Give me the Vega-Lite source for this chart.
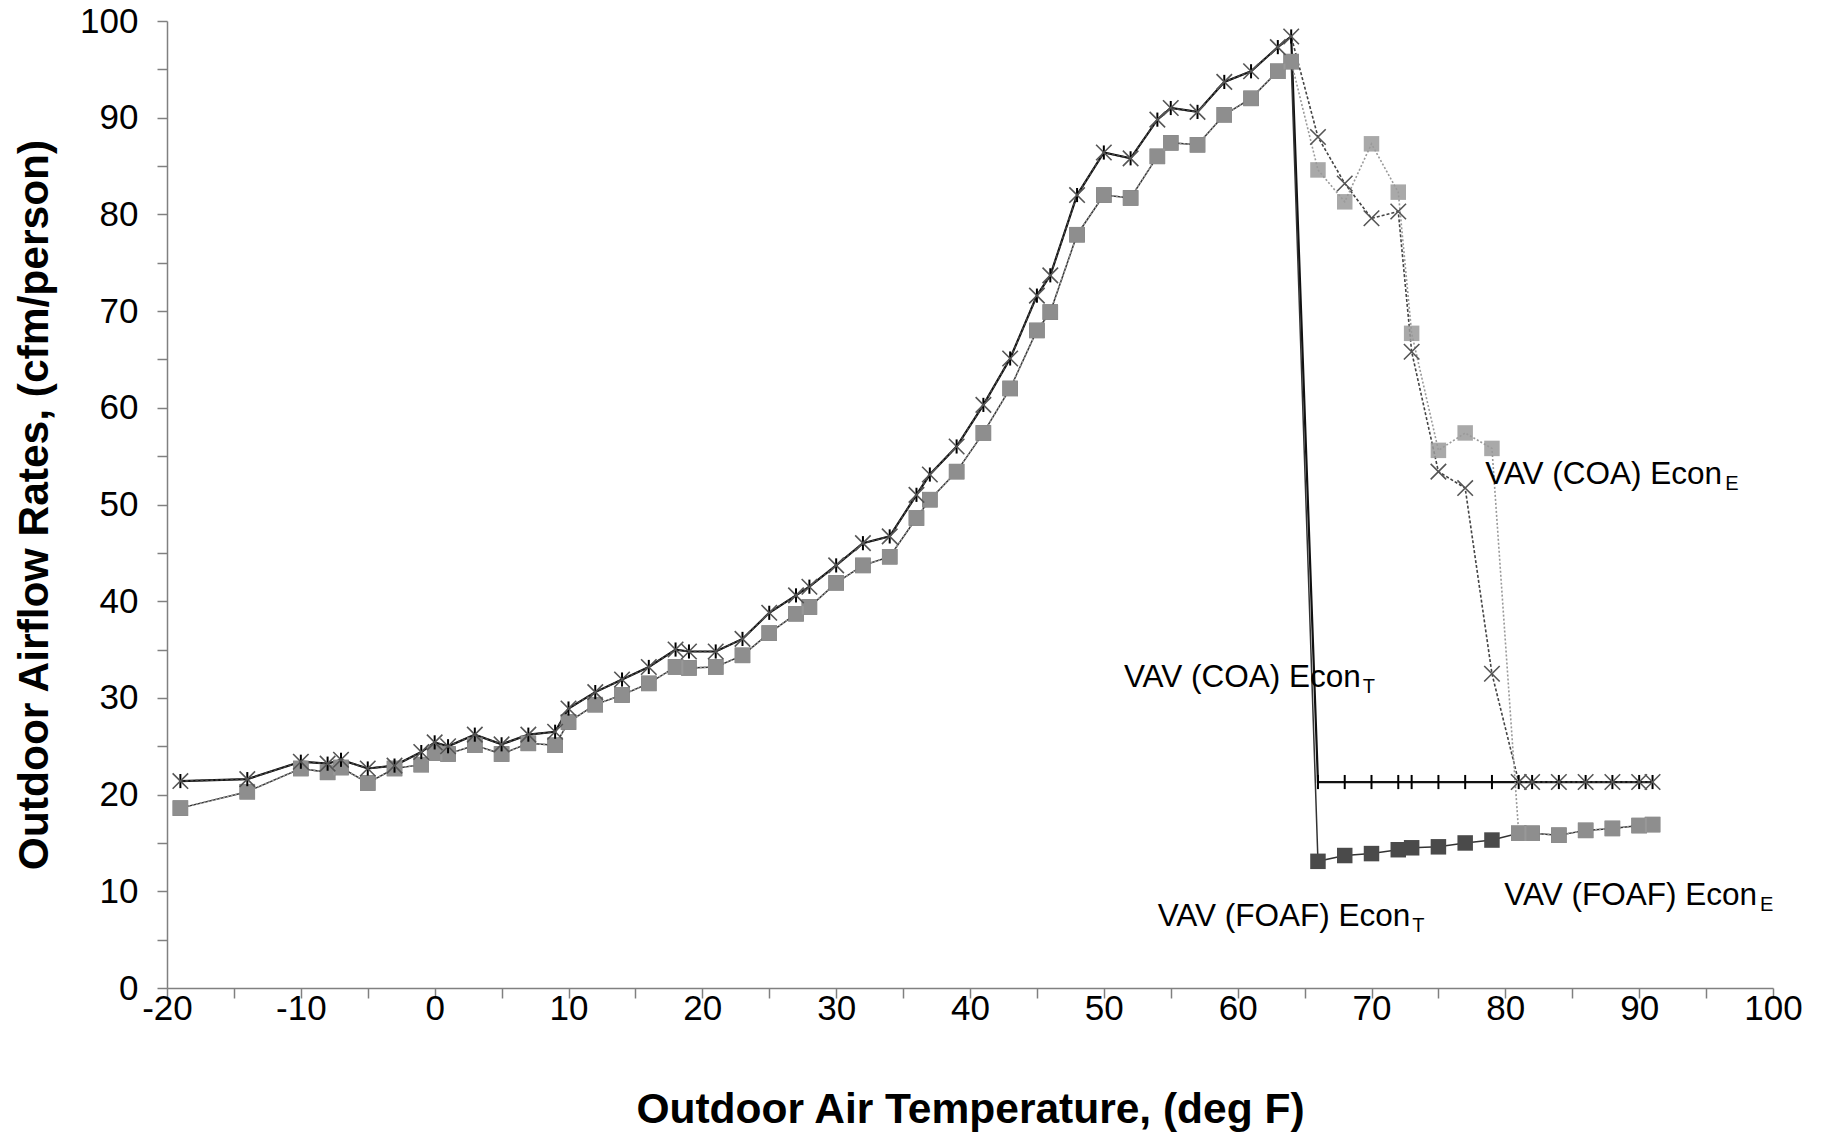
{
  "$schema": "https://vega.github.io/schema/vega-lite/v6.json",
  "width": 1606,
  "height": 967,
  "autosize": "none",
  "padding": {"left": 167, "top": 21, "right": 56, "bottom": 145},
  "background": "white",
  "config": {
    "view": {"stroke": null},
    "axis": {
      "grid": false,
      "domainColor": "#808080",
      "domainWidth": 1.5,
      "tickColor": "#808080",
      "tickWidth": 1.5,
      "tickSize": 10,
      "labelFont": "Liberation Sans",
      "labelFontSize": 35,
      "labelColor": "#000000",
      "titleFont": "Liberation Sans",
      "titleFontSize": 42.5,
      "titleFontWeight": "bold",
      "titleColor": "#000000"
    }
  },
  "datasets": {
    "pts": [
      {"t": -19, "v": 21.4, "s": "CT"}, {"t": -14, "v": 21.6, "s": "CT"}, {"t": -10, "v": 23.4, "s": "CT"}, {"t": -8, "v": 23.2, "s": "CT"}, {"t": -7, "v": 23.6, "s": "CT"}, {"t": -5, "v": 22.7, "s": "CT"}, {"t": -3, "v": 23.0, "s": "CT"}, {"t": -1, "v": 24.4, "s": "CT"}, {"t": 0, "v": 25.4, "s": "CT"}, {"t": 1, "v": 25.0, "s": "CT"}, {"t": 3, "v": 26.2, "s": "CT"}, {"t": 5, "v": 25.2, "s": "CT"}, {"t": 7, "v": 26.2, "s": "CT"}, {"t": 9, "v": 26.5, "s": "CT"}, {"t": 10, "v": 28.9, "s": "CT"}, {"t": 12, "v": 30.6, "s": "CT"}, {"t": 14, "v": 31.9, "s": "CT"}, {"t": 16, "v": 33.2, "s": "CT"}, {"t": 18, "v": 35.0, "s": "CT"}, {"t": 19, "v": 34.8, "s": "CT"}, {"t": 21, "v": 34.8, "s": "CT"}, {"t": 23, "v": 36.1, "s": "CT"}, {"t": 25, "v": 38.8, "s": "CT"}, {"t": 27, "v": 40.6, "s": "CT"}, {"t": 28, "v": 41.5, "s": "CT"}, {"t": 30, "v": 43.7, "s": "CT"}, {"t": 32, "v": 46.0, "s": "CT"}, {"t": 34, "v": 46.7, "s": "CT"}, {"t": 36, "v": 51.0, "s": "CT"}, {"t": 37, "v": 53.1, "s": "CT"}, {"t": 39, "v": 56.0, "s": "CT"}, {"t": 41, "v": 60.3, "s": "CT"}, {"t": 43, "v": 65.1, "s": "CT"}, {"t": 45, "v": 71.6, "s": "CT"}, {"t": 46, "v": 73.7, "s": "CT"}, {"t": 48, "v": 82.0, "s": "CT"}, {"t": 50, "v": 86.4, "s": "CT"}, {"t": 52, "v": 85.8, "s": "CT"}, {"t": 54, "v": 89.8, "s": "CT"}, {"t": 55, "v": 91.0, "s": "CT"}, {"t": 57, "v": 90.6, "s": "CT"}, {"t": 59, "v": 93.7, "s": "CT"}, {"t": 61, "v": 94.8, "s": "CT"}, {"t": 63, "v": 97.3, "s": "CT"}, {"t": 64, "v": 98.4, "s": "CT"},
      {"t": 66, "v": 21.3, "s": "CT"}, {"t": 68, "v": 21.3, "s": "CT"}, {"t": 70, "v": 21.3, "s": "CT"}, {"t": 72, "v": 21.3, "s": "CT"}, {"t": 73, "v": 21.3, "s": "CT"}, {"t": 75, "v": 21.3, "s": "CT"}, {"t": 77, "v": 21.3, "s": "CT"}, {"t": 79, "v": 21.3, "s": "CT"}, {"t": 81, "v": 21.3, "s": "CT"}, {"t": 82, "v": 21.3, "s": "CT"}, {"t": 84, "v": 21.3, "s": "CT"}, {"t": 86, "v": 21.3, "s": "CT"}, {"t": 88, "v": 21.3, "s": "CT"}, {"t": 90, "v": 21.3, "s": "CT"}, {"t": 91, "v": 21.3, "s": "CT"},

      {"t": -19, "v": 18.6, "s": "FT"}, {"t": -14, "v": 20.3, "s": "FT"}, {"t": -10, "v": 22.7, "s": "FT"}, {"t": -8, "v": 22.3, "s": "FT"}, {"t": -7, "v": 22.8, "s": "FT"}, {"t": -5, "v": 21.2, "s": "FT"}, {"t": -3, "v": 22.7, "s": "FT"}, {"t": -1, "v": 23.1, "s": "FT"}, {"t": 0, "v": 24.3, "s": "FT"}, {"t": 1, "v": 24.2, "s": "FT"}, {"t": 3, "v": 25.1, "s": "FT"}, {"t": 5, "v": 24.2, "s": "FT"}, {"t": 7, "v": 25.3, "s": "FT"}, {"t": 9, "v": 25.1, "s": "FT"}, {"t": 10, "v": 27.5, "s": "FT"}, {"t": 12, "v": 29.3, "s": "FT"}, {"t": 14, "v": 30.3, "s": "FT"}, {"t": 16, "v": 31.5, "s": "FT"}, {"t": 18, "v": 33.2, "s": "FT"}, {"t": 19, "v": 33.1, "s": "FT"}, {"t": 21, "v": 33.2, "s": "FT"}, {"t": 23, "v": 34.4, "s": "FT"}, {"t": 25, "v": 36.7, "s": "FT"}, {"t": 27, "v": 38.7, "s": "FT"}, {"t": 28, "v": 39.4, "s": "FT"}, {"t": 30, "v": 41.9, "s": "FT"}, {"t": 32, "v": 43.7, "s": "FT"}, {"t": 34, "v": 44.6, "s": "FT"}, {"t": 36, "v": 48.6, "s": "FT"}, {"t": 37, "v": 50.5, "s": "FT"}, {"t": 39, "v": 53.4, "s": "FT"}, {"t": 41, "v": 57.4, "s": "FT"}, {"t": 43, "v": 62.0, "s": "FT"}, {"t": 45, "v": 68.0, "s": "FT"}, {"t": 46, "v": 69.9, "s": "FT"}, {"t": 48, "v": 77.9, "s": "FT"}, {"t": 50, "v": 82.0, "s": "FT"}, {"t": 52, "v": 81.7, "s": "FT"}, {"t": 54, "v": 86.0, "s": "FT"}, {"t": 55, "v": 87.4, "s": "FT"}, {"t": 57, "v": 87.2, "s": "FT"}, {"t": 59, "v": 90.3, "s": "FT"}, {"t": 61, "v": 92.0, "s": "FT"}, {"t": 63, "v": 94.8, "s": "FT"}, {"t": 64, "v": 95.8, "s": "FT"},
      {"t": 66, "v": 13.1, "s": "FT"}, {"t": 68, "v": 13.7, "s": "FT"}, {"t": 70, "v": 13.9, "s": "FT"}, {"t": 72, "v": 14.3, "s": "FT"}, {"t": 73, "v": 14.5, "s": "FT"}, {"t": 75, "v": 14.6, "s": "FT"}, {"t": 77, "v": 15.0, "s": "FT"}, {"t": 79, "v": 15.3, "s": "FT"}, {"t": 81, "v": 16.0, "s": "FT"}, {"t": 82, "v": 16.0, "s": "FT"}, {"t": 84, "v": 15.8, "s": "FT"}, {"t": 86, "v": 16.3, "s": "FT"}, {"t": 88, "v": 16.5, "s": "FT"}, {"t": 90, "v": 16.8, "s": "FT"}, {"t": 91, "v": 16.9, "s": "FT"},

      {"t": -19, "v": 21.4, "s": "CE"}, {"t": -14, "v": 21.6, "s": "CE"}, {"t": -10, "v": 23.4, "s": "CE"}, {"t": -8, "v": 23.2, "s": "CE"}, {"t": -7, "v": 23.6, "s": "CE"}, {"t": -5, "v": 22.7, "s": "CE"}, {"t": -3, "v": 23.0, "s": "CE"}, {"t": -1, "v": 24.4, "s": "CE"}, {"t": 0, "v": 25.4, "s": "CE"}, {"t": 1, "v": 25.0, "s": "CE"}, {"t": 3, "v": 26.2, "s": "CE"}, {"t": 5, "v": 25.2, "s": "CE"}, {"t": 7, "v": 26.2, "s": "CE"}, {"t": 9, "v": 26.5, "s": "CE"}, {"t": 10, "v": 28.9, "s": "CE"}, {"t": 12, "v": 30.6, "s": "CE"}, {"t": 14, "v": 31.9, "s": "CE"}, {"t": 16, "v": 33.2, "s": "CE"}, {"t": 18, "v": 35.0, "s": "CE"}, {"t": 19, "v": 34.8, "s": "CE"}, {"t": 21, "v": 34.8, "s": "CE"}, {"t": 23, "v": 36.1, "s": "CE"}, {"t": 25, "v": 38.8, "s": "CE"}, {"t": 27, "v": 40.6, "s": "CE"}, {"t": 28, "v": 41.5, "s": "CE"}, {"t": 30, "v": 43.7, "s": "CE"}, {"t": 32, "v": 46.0, "s": "CE"}, {"t": 34, "v": 46.7, "s": "CE"}, {"t": 36, "v": 51.0, "s": "CE"}, {"t": 37, "v": 53.1, "s": "CE"}, {"t": 39, "v": 56.0, "s": "CE"}, {"t": 41, "v": 60.3, "s": "CE"}, {"t": 43, "v": 65.1, "s": "CE"}, {"t": 45, "v": 71.6, "s": "CE"}, {"t": 46, "v": 73.7, "s": "CE"}, {"t": 48, "v": 82.0, "s": "CE"}, {"t": 50, "v": 86.4, "s": "CE"}, {"t": 52, "v": 85.8, "s": "CE"}, {"t": 54, "v": 89.8, "s": "CE"}, {"t": 55, "v": 91.0, "s": "CE"}, {"t": 57, "v": 90.6, "s": "CE"}, {"t": 59, "v": 93.7, "s": "CE"}, {"t": 61, "v": 94.8, "s": "CE"}, {"t": 63, "v": 97.3, "s": "CE"}, {"t": 64, "v": 98.4, "s": "CE"},
      {"t": 66, "v": 88.0, "s": "CE"}, {"t": 68, "v": 83.2, "s": "CE"}, {"t": 70, "v": 79.6, "s": "CE"}, {"t": 72, "v": 80.3, "s": "CE"}, {"t": 73, "v": 65.8, "s": "CE"}, {"t": 75, "v": 53.4, "s": "CE"}, {"t": 77, "v": 51.7, "s": "CE"}, {"t": 79, "v": 32.5, "s": "CE"}, {"t": 81, "v": 21.3, "s": "CE"}, {"t": 82, "v": 21.3, "s": "CE"}, {"t": 84, "v": 21.3, "s": "CE"}, {"t": 86, "v": 21.3, "s": "CE"}, {"t": 88, "v": 21.3, "s": "CE"}, {"t": 90, "v": 21.3, "s": "CE"}, {"t": 91, "v": 21.3, "s": "CE"},

      {"t": -19, "v": 18.6, "s": "FE"}, {"t": -14, "v": 20.3, "s": "FE"}, {"t": -10, "v": 22.7, "s": "FE"}, {"t": -8, "v": 22.3, "s": "FE"}, {"t": -7, "v": 22.8, "s": "FE"}, {"t": -5, "v": 21.2, "s": "FE"}, {"t": -3, "v": 22.7, "s": "FE"}, {"t": -1, "v": 23.1, "s": "FE"}, {"t": 0, "v": 24.3, "s": "FE"}, {"t": 1, "v": 24.2, "s": "FE"}, {"t": 3, "v": 25.1, "s": "FE"}, {"t": 5, "v": 24.2, "s": "FE"}, {"t": 7, "v": 25.3, "s": "FE"}, {"t": 9, "v": 25.1, "s": "FE"}, {"t": 10, "v": 27.5, "s": "FE"}, {"t": 12, "v": 29.3, "s": "FE"}, {"t": 14, "v": 30.3, "s": "FE"}, {"t": 16, "v": 31.5, "s": "FE"}, {"t": 18, "v": 33.2, "s": "FE"}, {"t": 19, "v": 33.1, "s": "FE"}, {"t": 21, "v": 33.2, "s": "FE"}, {"t": 23, "v": 34.4, "s": "FE"}, {"t": 25, "v": 36.7, "s": "FE"}, {"t": 27, "v": 38.7, "s": "FE"}, {"t": 28, "v": 39.4, "s": "FE"}, {"t": 30, "v": 41.9, "s": "FE"}, {"t": 32, "v": 43.7, "s": "FE"}, {"t": 34, "v": 44.6, "s": "FE"}, {"t": 36, "v": 48.6, "s": "FE"}, {"t": 37, "v": 50.5, "s": "FE"}, {"t": 39, "v": 53.4, "s": "FE"}, {"t": 41, "v": 57.4, "s": "FE"}, {"t": 43, "v": 62.0, "s": "FE"}, {"t": 45, "v": 68.0, "s": "FE"}, {"t": 46, "v": 69.9, "s": "FE"}, {"t": 48, "v": 77.9, "s": "FE"}, {"t": 50, "v": 82.0, "s": "FE"}, {"t": 52, "v": 81.7, "s": "FE"}, {"t": 54, "v": 86.0, "s": "FE"}, {"t": 55, "v": 87.4, "s": "FE"}, {"t": 57, "v": 87.2, "s": "FE"}, {"t": 59, "v": 90.3, "s": "FE"}, {"t": 61, "v": 92.0, "s": "FE"}, {"t": 63, "v": 94.8, "s": "FE"}, {"t": 64, "v": 95.8, "s": "FE"},
      {"t": 66, "v": 84.6, "s": "FE"}, {"t": 68, "v": 81.3, "s": "FE"}, {"t": 70, "v": 87.3, "s": "FE"}, {"t": 72, "v": 82.3, "s": "FE"}, {"t": 73, "v": 67.7, "s": "FE"}, {"t": 75, "v": 55.6, "s": "FE"}, {"t": 77, "v": 57.4, "s": "FE"}, {"t": 79, "v": 55.8, "s": "FE"}, {"t": 81, "v": 16.0, "s": "FE"}, {"t": 82, "v": 16.0, "s": "FE"}, {"t": 84, "v": 15.8, "s": "FE"}, {"t": 86, "v": 16.3, "s": "FE"}, {"t": 88, "v": 16.5, "s": "FE"}, {"t": 90, "v": 16.8, "s": "FE"}, {"t": 91, "v": 16.9, "s": "FE"}
    ]
  },
  "layer": [
    {
      "data": {"name": "pts"},
      "encoding": {
        "x": {
          "field": "t", "type": "quantitative",
          "scale": {"domain": [-20, 100], "nice": false, "zero": false},
          "axis": {
            "values": [-20, -15, -10, -5, 0, 5, 10, 15, 20, 25, 30, 35, 40, 45, 50, 55, 60, 65, 70, 75, 80, 85, 90, 95, 100],
            "labelExpr": "datum.value % 10 === 0 ? '' + datum.value : ''",
            "labelPadding": -7, "labelFlush": false, "labelOverlap": false,
            "title": "Outdoor Air Temperature, (deg F)",
            "titleX": 803, "titleY": 134, "titleBaseline": "alphabetic", "titleAnchor": "middle", "titleAlign": "center"
          }
        },
        "y": {
          "field": "v", "type": "quantitative",
          "scale": {"domain": [0, 100], "nice": false},
          "axis": {
            "values": [0, 5, 10, 15, 20, 25, 30, 35, 40, 45, 50, 55, 60, 65, 70, 75, 80, 85, 90, 95, 100],
            "labelExpr": "datum.value % 10 === 0 ? '' + datum.value : ''",
            "labelPadding": 19, "labelFlush": false, "labelOverlap": false,
            "title": "Outdoor Airflow Rates, (cfm/person)",
            "titleX": -120, "titleY": 483.5, "titleAngle": -90, "titleBaseline": "alphabetic", "titleAlign": "center"
          }
        }
      },
      "layer": [
        {"transform": [{"filter": "datum.s === 'CT'"}], "mark": {"type": "line", "color": "#111111", "strokeWidth": 2.2}},
        {"transform": [{"filter": "datum.s === 'FT'"}], "mark": {"type": "line", "color": "#333333", "strokeWidth": 1.5}},
        {"transform": [{"filter": "datum.s === 'CE'"}], "mark": {"type": "line", "color": "#444444", "strokeWidth": 1.6, "strokeDash": [3, 2]}},
        {"transform": [{"filter": "datum.s === 'FE'"}], "mark": {"type": "line", "color": "#999999", "strokeWidth": 1.6, "strokeDash": [2, 2]}},
        {"transform": [{"filter": "datum.s === 'FT'"}], "mark": {"type": "point", "shape": "square", "filled": true, "color": "#4a4a4a", "size": 240, "opacity": 1}},
        {"transform": [{"filter": "datum.s === 'FE'"}], "mark": {"type": "point", "shape": "square", "filled": true, "color": "#9a9a9a", "size": 240, "opacity": 0.85}},
        {"transform": [{"filter": "datum.s === 'CT'"}], "mark": {"type": "point", "shape": "M0,-1L0,1", "filled": false, "color": "#000000", "strokeWidth": 2, "size": 200, "opacity": 1}},
        {"transform": [{"filter": "datum.s === 'CE'"}], "mark": {"type": "point", "shape": "M-1,-1L1,1M-1,1L1,-1", "filled": false, "color": "#555555", "strokeWidth": 1.6, "size": 240, "opacity": 1}}
      ]
    },
    {
      "data": {"values": [{"k": 1}]},
      "layer": [
        {"mark": {"type": "text", "text": "VAV (COA) Econ", "font": "Liberation Sans", "fontSize": 31.5, "align": "right", "baseline": "alphabetic", "color": "#000000"}, "encoding": {"x": {"datum": 96.2}, "y": {"datum": 52.1}}},
        {"mark": {"type": "text", "text": "E", "font": "Liberation Sans", "fontSize": 20, "align": "left", "baseline": "alphabetic", "dx": 3, "dy": 6, "color": "#000000"}, "encoding": {"x": {"datum": 96.2}, "y": {"datum": 52.1}}},
        {"mark": {"type": "text", "text": "VAV (COA) Econ", "font": "Liberation Sans", "fontSize": 31.5, "align": "right", "baseline": "alphabetic", "color": "#000000"}, "encoding": {"x": {"datum": 69.2}, "y": {"datum": 31.1}}},
        {"mark": {"type": "text", "text": "T", "font": "Liberation Sans", "fontSize": 20, "align": "left", "baseline": "alphabetic", "dx": 2, "dy": 6, "color": "#000000"}, "encoding": {"x": {"datum": 69.2}, "y": {"datum": 31.1}}},
        {"mark": {"type": "text", "text": "VAV (FOAF) Econ", "font": "Liberation Sans", "fontSize": 31.5, "align": "right", "baseline": "alphabetic", "color": "#000000"}, "encoding": {"x": {"datum": 72.9}, "y": {"datum": 6.4}}},
        {"mark": {"type": "text", "text": "T", "font": "Liberation Sans", "fontSize": 20, "align": "left", "baseline": "alphabetic", "dx": 2, "dy": 6, "color": "#000000"}, "encoding": {"x": {"datum": 72.9}, "y": {"datum": 6.4}}},
        {"mark": {"type": "text", "text": "VAV (FOAF) Econ", "font": "Liberation Sans", "fontSize": 31.5, "align": "right", "baseline": "alphabetic", "color": "#000000"}, "encoding": {"x": {"datum": 98.8}, "y": {"datum": 8.6}}},
        {"mark": {"type": "text", "text": "E", "font": "Liberation Sans", "fontSize": 20, "align": "left", "baseline": "alphabetic", "dx": 3, "dy": 6, "color": "#000000"}, "encoding": {"x": {"datum": 98.8}, "y": {"datum": 8.6}}}
      ]
    }
  ]
}
